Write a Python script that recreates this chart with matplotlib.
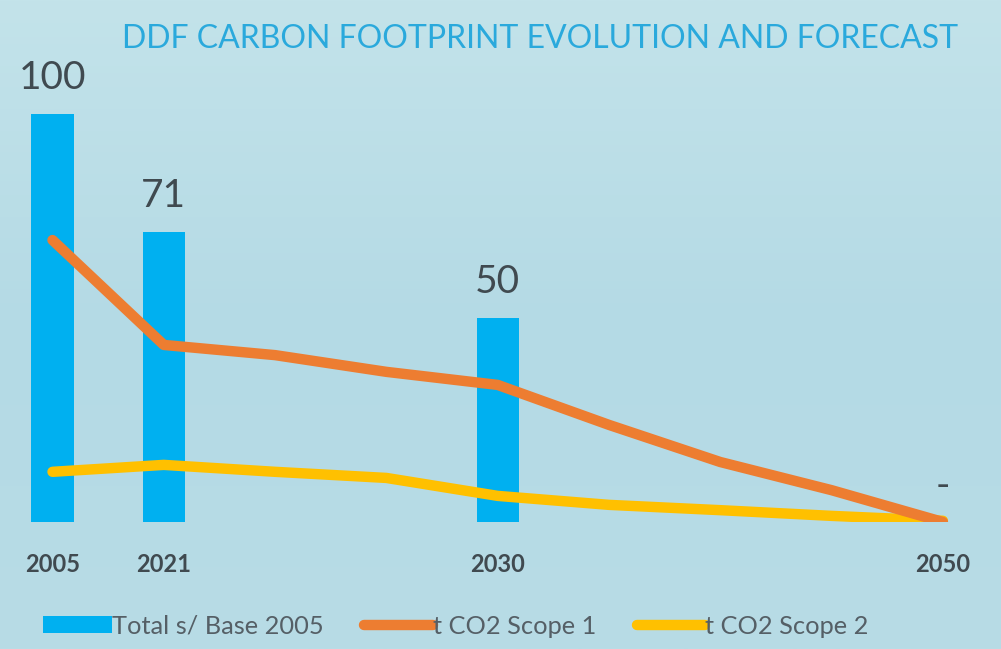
import numpy as np
import matplotlib
matplotlib.use("Agg")
import matplotlib.pyplot as plt
from matplotlib.patches import Patch
from matplotlib.lines import Line2D
from matplotlib.colors import LinearSegmentedColormap

plt.rcParams['font.family'] = ['Lato', 'DejaVu Sans']

categories = ["2005", "2021", "", "", "2030", "", "", "", "2050"]
total_base = [100, 71, None, None, 50, None, None, None, 0]
total_labels = ["100", "71", "", "", "50", "", "", "", "-"]
scope1 = [69.1, 43.4, 40.9, 36.8, 33.6, 23.8, 14.7, 7.8, 0.0]
scope2 = [12.3, 14.0, 12.3, 10.8, 6.4, 4.2, 2.9, 1.5, 0.3]

title = "DDF CARBON FOOTPRINT EVOLUTION AND FORECAST"
legend_labels = ["Total s/ Base 2005", "t CO2 Scope 1", "t CO2 Scope 2"]

BLUE = "#00B0F0"
ORANGE = "#ED7D31"
YELLOW = "#FFC000"
TEXT = "#404A50"

W, H = 1001, 649
fig = plt.figure(figsize=(W / 100, H / 100), dpi=100)

# background gradient
bg = fig.add_axes([0, 0, 1, 1], zorder=-10)
grad = np.linspace(0, 1, 256).reshape(-1, 1)
cmap = LinearSegmentedColormap.from_list("bg", ["#C3E3EA", "#B4DAE5", "#B8DCE6"])
bg.imshow(grad, aspect="auto", cmap=cmap, extent=[0, 1, 0, 1])
bg.axis("off")

ax = fig.add_axes([0, 127 / H, 1, 522 / H])
ax.patch.set_alpha(0)
x = np.arange(len(categories))
bar_vals = np.array([np.nan if v is None else v for v in total_base], dtype=float)
ax.bar(x, np.nan_to_num(bar_vals), width=0.38, color=BLUE, zorder=1)
ax.plot(x, scope1, color=ORANGE, lw=7.5, solid_capstyle="round", solid_joinstyle="round", zorder=3)
ax.plot(x, scope2, color=YELLOW, lw=7.5, solid_capstyle="round", solid_joinstyle="round", zorder=2)

for xi, v, lab in zip(x, bar_vals, total_labels):
    if lab:
        ax.annotate(lab, (xi, v), xytext=(0, 13), textcoords="offset points",
                    ha="center", va="bottom", fontsize=28, color=TEXT)

ax.set_xlim(-52.5 / 111.3, (W - 52.5) / 111.3)
ax.set_ylim(0, 522 / 4.08)
ax.set_xticks(x)
ax.set_xticklabels(categories, fontsize=17, fontweight="bold", color=TEXT)
ax.tick_params(axis="x", length=0, pad=22)
ax.set_yticks([])
for s in ax.spines.values():
    s.set_visible(False)

fig.text(540 / W, 1 - 39 / H, title, ha="center", va="center", fontsize=23,
         color="#2AA9DC")

handles = [Patch(facecolor=BLUE, edgecolor="none"),
           Line2D([0], [0], color=ORANGE, lw=7.5, solid_capstyle="round"),
           Line2D([0], [0], color=YELLOW, lw=7.5, solid_capstyle="round")]
leg = fig.legend(handles, legend_labels, loc="center", ncol=3,
                 bbox_to_anchor=(456 / W, 1 - 626 / H), frameon=False,
                 fontsize=18.3, handlelength=2.7, handleheight=0.6, handletextpad=0.0,
                 columnspacing=1.6, labelcolor="#555F66")

fig.savefig("out.png", dpi=100)
